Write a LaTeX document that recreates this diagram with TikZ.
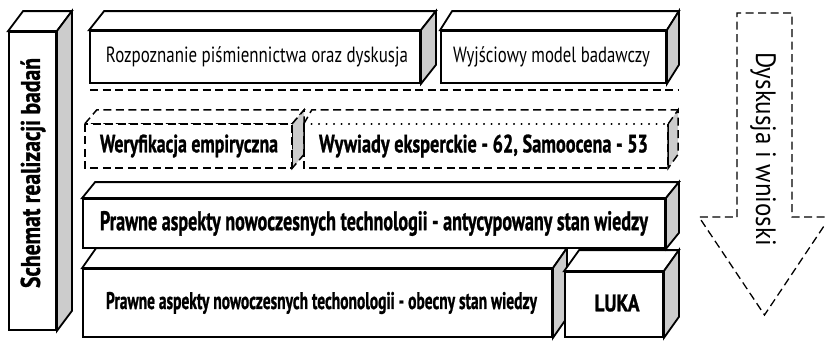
\documentclass[tikz,border=0pt]{standalone}
\usepackage{fontspec}
\usepackage{graphicx}
\setmainfont{PT Sans}[BoldFeatures={FakeBold=1.2}]
\newcommand\fitw[2]{\resizebox{#1pt}{\height}{#2}}
\newcommand\cubefaces[4]{% node, dx, dy, side style
  \filldraw[#4,fill=white] (#1.north west) -- ++(#2,-#3) -- ([xshift=#2pt,yshift=#3pt]#1.north east) -- (#1.north east) -- cycle;
  \filldraw[#4,fill=black!20] (#1.north east) -- ++(#2,-#3) -- ([xshift=#2pt,yshift=#3pt]#1.south east) -- (#1.south east) -- cycle;
}
\begin{document}
\begin{tikzpicture}[x=1pt,y=-1pt,
  front/.style={draw,fill=white,line width=1.8pt,inner sep=0pt},
  solidedge/.style={line width=1.8pt,line join=miter},
  dashedge/.style={line width=1.5pt,dash pattern=on 8pt off 4.5pt},
  dotedge/.style={line width=1.6pt,dash pattern=on 0.5pt off 7pt,line cap=round},
  reg/.style={font=\fontsize{22}{22}\selectfont},
  bld/.style={font=\bfseries\fontsize{25}{25}\selectfont}]
\useasboundingbox (0,0) rectangle (825,349);

% left vertical bar
\node[front,minimum width=47pt,minimum height=298pt] (bar) at (32.5,181) {};
\cubefaces{bar}{15}{20}{solidedge}
\node[rotate=90,font=\bfseries\fontsize{27}{27}\selectfont] (bartxt) at (33,173) {\fitw{230}{Schemat realizacji badań}};

% row 1
\node[front,minimum width=330pt,minimum height=52pt] (roz) at (255,57) {};
\cubefaces{roz}{15}{19}{solidedge}
\node[reg] (roztxt) at (257,57) {\fitw{302}{Rozpoznanie piśmiennictwa oraz dyskusja}};

\node[front,minimum width=225pt,minimum height=52pt] (wyj) at (553.5,57) {};
\cubefaces{wyj}{12}{19}{solidedge}
\node[reg] (wyjtxt) at (551.5,57) {\fitw{197}{Wyjściowy model badawczy}};

% dashed separator
\coordinate (sepL) at (90,90);
\coordinate (sepR) at (678,90);
\draw[dashedge] (sepL) -- (sepR);

% row 2 (dashed)
\node[inner sep=0pt,minimum width=207pt,minimum height=44pt] (wer) at (188.5,146) {};
\cubefaces{wer}{12}{14}{dashedge}
\draw[dashedge,fill=white] (wer.north west) rectangle (wer.south east);
\node[bld] (wertxt) at (189,146) {\fitw{178}{Weryfikacja empiryczna}};

\node[inner sep=0pt,minimum width=364pt,minimum height=44pt] (wyw) at (486,146) {};
\draw[dashedge] (wyw.north west) -- ++(8,-14) -- ([xshift=10pt,yshift=14pt]wyw.north east);
\filldraw[dashedge,fill=black!20] (wyw.north east) -- ++(10,-14) -- ([xshift=10pt,yshift=14pt]wyw.south east) -- (wyw.south east) -- cycle;
\draw[dashedge] (wyw.north west) -- (wyw.south west) -- (wyw.south east) -- (wyw.north east);
\draw[dotedge] (wyw.north west) -- (wyw.north east);
\node[bld] (wywtxt) at (483.5,146) {\fitw{329}{Wywiady eksperckie - 62, Samoocena - 53}};

% row 4 (drawn first, lies behind)
\node[front,minimum width=469pt,minimum height=68pt] (obe) at (317.5,303) {};
\cubefaces{obe}{14}{20}{solidedge}
\node[font=\bfseries\fontsize{24}{24}\selectfont] (obetxt) at (321.5,303) {\fitw{431}{Prawne aspekty nowoczesnych techonologii - obecny stan wiedzy}};

\node[front,minimum width=98pt,minimum height=65pt] (luka) at (614,304.5) {};
\cubefaces{luka}{15}{21}{solidedge}
\node[font=\bfseries\fontsize{24}{24}\selectfont] (lukatxt) at (617,303) {\fitw{45}{LUKA}};

% row 3
\node[front,minimum width=582pt,minimum height=49pt] (ant) at (374,223.5) {};
\cubefaces{ant}{13}{16}{solidedge}
\node[font=\bfseries\fontsize{27}{27}\selectfont] (anttxt) at (374,223.5) {\fitw{548}{Prawne aspekty nowoczesnych technologii - antycypowany stan wiedzy}};

% dashed arrow
\coordinate (a1) at (737,217);
\coordinate (a2) at (737,13);
\coordinate (a3) at (792,13);
\coordinate (a4) at (792,217);
\coordinate (a5) at (830,217);
\coordinate (tip) at (764.5,315);
\coordinate (a7) at (699,217);
\draw[dashedge,line width=1.3pt] (a1) -- (a2) -- (a3) -- (a4) -- (a5) -- (tip) -- (a7) -- cycle;
\node[rotate=-90,font=\fontsize{28}{28}\selectfont] (arrtxt) at (763,149) {\fitw{194}{Dyskusja i wnioski}};
\end{tikzpicture}
\end{document}
